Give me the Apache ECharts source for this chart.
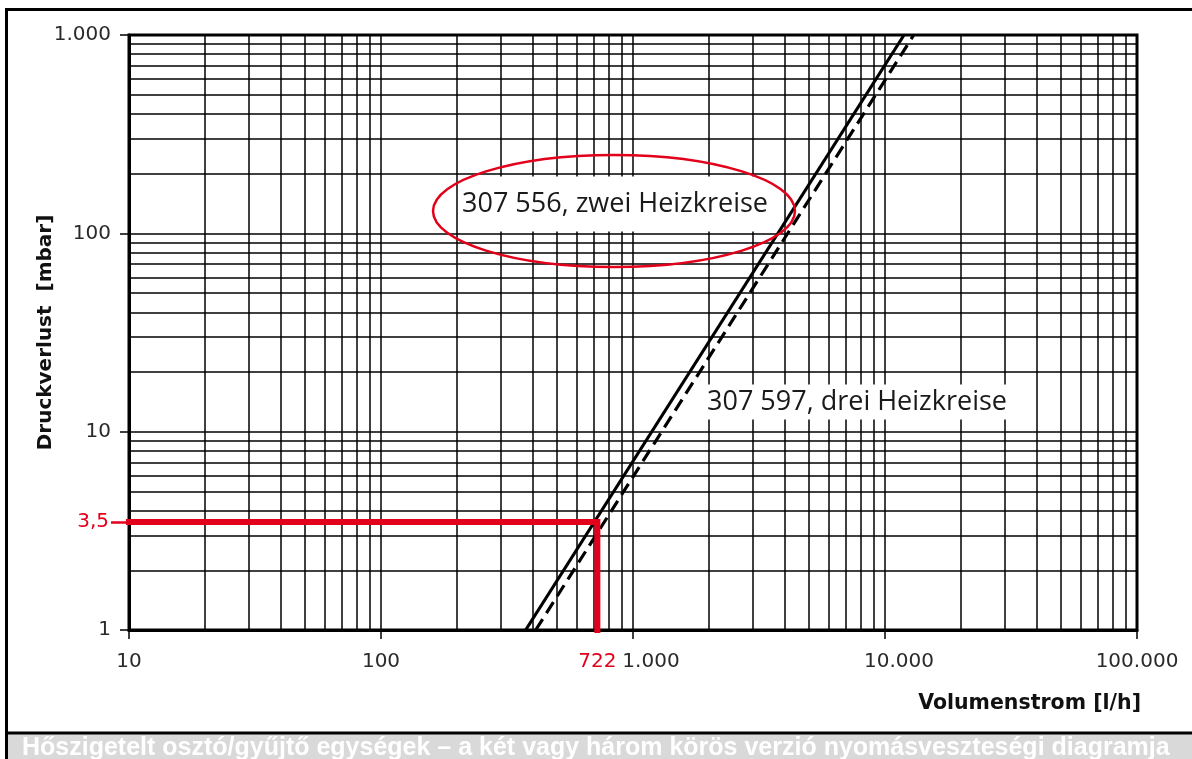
<!DOCTYPE html>
<html>
<head>
<meta charset="utf-8">
<script src="https://cdn.jsdelivr.net/npm/echarts@6/dist/echarts.min.js"></script>
<style>
  html, body { margin: 0; padding: 0; background: #fff; }
  #chart { width: 1192px; height: 759px; }
</style>
</head>
<body>
<div id="chart"></div>
<script>
// Flow rate (l/h) and pressure loss (mbar) along each manifold curve
const flow2 = [375, 11900];      // 307 556, two heating circuits (solid)
const loss2 = [1, 1000];
const flow3 = [411, 13000];      // 307 597, three heating circuits (dashed)
const loss3 = [1, 1000];

// Worked reading: 722 l/h -> 3,5 mbar
const readFlow = 722;
const readLoss = 3.5;
const readFlowLabel = '722';
const readLossLabel = '3,5';

// Axis ticks
const xTickValues = [10, 100, 1000, 10000, 100000];
const xTickLabels = ['10', '100', '1.000', '10.000', '100.000'];
const xTickShift = [0, 0, 36, 28, 0];   // left padding that nudges a label to the right
const yTickValues = [1, 10, 100, 1000];
const yTickLabels = ['1', '10', '100', '1.000'];

// Grid lines at 1..9 x each decade
const xGridLines = [];
for (let d = 10; d < 100000; d *= 10) for (let k = 1; k <= 9; k++) if (k > 1 || d > 10) xGridLines.push(k * d);
const yGridLines = [];
for (let d = 1; d < 1000; d *= 10) for (let k = 1; k <= 9; k++) if (k > 1 || d > 1) yGridLines.push(k * d);

const RED = '#e2001a';
const tickFont = { fontFamily: 'DejaVu Sans', fontWeight: 'normal', fontSize: 20, color: '#2a2a2a' };

const chart = echarts.init(document.getElementById('chart'));

const zip = (a, b) => a.map((v, i) => [v, b[i]]);
const findTick = (values, v) => values.findIndex(t => Math.abs(t - v) / t < 1e-6);

const xRich = {};
xTickShift.forEach((p, i) => { xRich['s' + i] = Object.assign({ padding: [0, 0, 0, p] }, tickFont); });

chart.setOption({
  animation: false,
  grid: { left: 129, right: 55, top: 35, bottom: 129, show: true, borderColor: '#000', borderWidth: 3 },
  xAxis: [{
    type: 'log', logBase: 10, min: 10, max: 100000,
    axisLine: { lineStyle: { color: '#000', width: 3 } },
    axisTick: { length: 9, lineStyle: { color: '#000', width: 1.5 } },
    axisLabel: Object.assign({
      margin: 22,
      rich: xRich,
      formatter: (v) => {
        const i = findTick(xTickValues, v);
        return i >= 0 ? '{s' + i + '|' + xTickLabels[i] + '}' : '';
      }
    }, tickFont),
    splitLine: { show: false }
  }, {
    type: 'log', logBase: 10, min: 10, max: 100000, position: 'bottom',
    axisLine: { show: false },
    axisTick: { show: false },
    axisLabel: Object.assign({}, tickFont, {
      customValues: [readFlow], margin: 22, color: RED,
      formatter: () => readFlowLabel
    }),
    splitLine: { show: false }
  }],
  yAxis: [{
    type: 'log', logBase: 10, min: 1, max: 1000,
    axisLine: { lineStyle: { color: '#000', width: 3 } },
    axisTick: { length: 9, lineStyle: { color: '#000', width: 1.5 } },
    axisLabel: Object.assign({
      margin: 18,
      formatter: (v) => { const i = findTick(yTickValues, v); return i >= 0 ? yTickLabels[i] : ''; }
    }, tickFont),
    splitLine: { show: false },
    name: 'Druckverlust  [mbar]',
    nameLocation: 'middle', nameGap: 73, nameRotate: 90, nameMoveOverlap: false,
    nameTextStyle: { fontFamily: 'DejaVu Sans', fontWeight: 'bold', fontSize: 20, color: '#111' }
  }, {
    type: 'log', logBase: 10, min: 1, max: 1000, position: 'left',
    axisLine: { show: false },
    axisTick: { show: true, customValues: [readLoss], length: 18, lineStyle: { color: RED, width: 2.5 } },
    axisLabel: Object.assign({}, tickFont, {
      customValues: [readLoss], margin: 20, color: RED,
      formatter: () => readLossLabel
    }),
    splitLine: { show: false }
  }],
  graphic: [
    // outer frame and caption bar
    { type: 'rect', z: 0, shape: { x: 6.5, y: 9.5, width: 1200, height: 760 }, style: { fill: null, stroke: '#000', lineWidth: 3 }, silent: true },
    { type: 'rect', z: 0, shape: { x: 8, y: 734, width: 1184, height: 25 }, style: { fill: '#d9d9d9' }, silent: true },
    { type: 'line', z: 0, shape: { x1: 6, y1: 733, x2: 1192, y2: 733 }, style: { stroke: '#000', lineWidth: 3 }, silent: true },
    { type: 'text', z: 10, x: 22, y: 748, style: {
        text: 'Hőszigetelt osztó/gyűjtő egységek – a két vagy három körös verzió nyomásveszteségi diagramja',
        fill: '#fff', font: 'bold 25px "Liberation Sans", Arial, sans-serif', verticalAlign: 'middle' } },
    // x-axis title
    { type: 'text', z: 10, x: 1141, y: 704, style: {
        text: 'Volumenstrom [l/h]', fill: '#111', font: 'bold 20.5px "DejaVu Sans", sans-serif',
        align: 'right', verticalAlign: 'middle' } },
    // curve captions
    { type: 'text', z: 20, x: 615, y: 204, style: {
        text: '307 556, zwei Heizkreise', fill: '#1a1a1a', font: '27px "Open Sans", sans-serif',
        align: 'center', verticalAlign: 'middle', backgroundColor: '#fff', padding: [24, 4, 4, 4] } },
    { type: 'ellipse', z: 21, shape: { cx: 614, cy: 211, rx: 181, ry: 56 }, style: { fill: null, stroke: RED, lineWidth: 2.5 } },
    { type: 'text', z: 20, x: 857, y: 402, style: {
        text: '307 597, drei Heizkreise', fill: '#1a1a1a', font: '27px "Open Sans", sans-serif',
        align: 'center', verticalAlign: 'middle', backgroundColor: '#fff', padding: [4, 6, 4, 6] } }
  ],
  series: [
    {
      name: 'grid', type: 'line', data: [], z: 1, silent: true,
      markLine: {
        silent: true, symbol: 'none', animation: false,
        label: { show: false },
        lineStyle: { color: '#000', width: 1.5, type: 'solid' },
        data: xGridLines.map(v => ({ xAxis: v })).concat(yGridLines.map(v => ({ yAxis: v })))
      }
    },
    {
      name: '307 556, zwei Heizkreise', type: 'line', z: 5, symbol: 'none',
      data: zip(flow2, loss2),
      lineStyle: { color: '#000', width: 3.2 }
    },
    {
      name: '307 597, drei Heizkreise', type: 'line', z: 5, symbol: 'none',
      data: zip(flow3, loss3),
      lineStyle: { color: '#000', width: 3.2, type: [13, 7] }
    },
    {
      name: 'reading', type: 'line', z: 6, symbol: 'none', clip: false,
      data: [[10, readLoss], [readFlow, readLoss], [readFlow, 1]],
      lineStyle: { color: RED, width: 6, cap: 'square', join: 'miter' }
    }
  ]
});
</script>
</body>
</html>
